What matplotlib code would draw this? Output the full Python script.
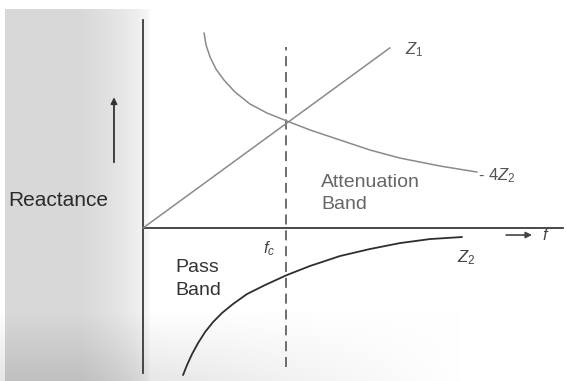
import matplotlib.pyplot as plt
import numpy as np

plt.rcParams["font.family"] = ["Liberation Sans", "DejaVu Sans"]
plt.rcParams["mathtext.fontset"] = "custom"
plt.rcParams["mathtext.rm"] = "Liberation Sans"
plt.rcParams["mathtext.it"] = "Liberation Sans:italic"

# frequency in units of f_c, reactance in units of Z1(f_c)
f_z1 = [0.0, 1.727]
z1 = [0.0, 1.70]

f_4z2 = [0.427, 0.441, 0.469, 0.510, 0.566, 0.643, 0.748, 0.867, 1.007,
         1.168, 1.378, 1.587, 1.797, 2.077, 2.336]
minus_4z2 = [1.840, 1.726, 1.613, 1.500, 1.396, 1.283, 1.170, 1.085, 1.009,
             0.925, 0.830, 0.736, 0.660, 0.585, 0.528]

f_z2 = [0.280, 0.308, 0.343, 0.385, 0.434, 0.490, 0.552, 0.629, 0.727,
        0.853, 1.007, 1.168, 1.378, 1.587, 1.797, 2.007, 2.231]
z2 = [-1.387, -1.292, -1.189, -1.085, -0.981, -0.887, -0.802, -0.717,
      -0.623, -0.538, -0.443, -0.358, -0.264, -0.198, -0.142, -0.104, -0.085]

f_c = 1.0

fig = plt.figure(figsize=(5.66, 3.81), dpi=100)
ax = fig.add_axes([0, 0, 1, 1])
ax.set_xlim(-1.0, 2.958)
ax.set_ylim(-1.443, 2.151)
ax.axis("off")

# scanned-paper shading: grey panel on the left, darker band at the bottom
h, w = 381, 566
yy, xx = np.mgrid[0:h, 0:w]
left = 0.15 * np.clip((150 - xx) / 70, 0, 1) ** 0.5 * (xx > 4) * (yy > 8)
bottom = 0.10 * np.clip((yy - 310) / 71, 0, 1) * np.clip((460 - xx) / 320, 0, 1)
shade = np.clip(1 - left - bottom, 0, 1)
ax.imshow(np.dstack([shade] * 3), extent=(-1.0, 2.958, -1.443, 2.151),
          aspect="auto", zorder=0)

# axes
ax.plot([0, 0], [-1.368, 1.962], color="#3a3a3a", lw=1.3, zorder=2)
ax.plot([0, 2.937], [0, 0], color="#3a3a3a", lw=1.3, zorder=2)

# curves
line_kw = dict(solid_joinstyle="round", solid_capstyle="round", zorder=3)
ax.plot(f_z1, z1, color="#8a8a8a", lw=1.1, **line_kw)
ax.plot(f_4z2, minus_4z2, color="#8a8a8a", lw=1.1, **line_kw)
ax.plot(f_z2, z2, color="#2e2e2e", lw=1.3, **line_kw)

# cut-off frequency
ax.plot([f_c, f_c], [-1.311, 1.708], color="#555555", lw=1.2,
        linestyle=(0, (6, 3.5)), zorder=2)

# direction arrows
ax.annotate("", xy=(-0.203, 1.26), xytext=(-0.203, 0.594),
            arrowprops=dict(arrowstyle="-|>", color="#333333", lw=1.3,
                            mutation_scale=9))
ax.annotate("", xy=(2.74, -0.066), xytext=(2.52, -0.066),
            arrowprops=dict(arrowstyle="-|>", color="#444444", lw=1.2,
                            mutation_scale=9))

# labels
ax.text(-0.594, 0.264, "Reactance", fontsize=15, color="#2a2a2a",
        ha="center", va="center")
ax.text(1.245, 0.425, "Attenuation", fontsize=14, color="#666666",
        ha="left", va="center")
ax.text(1.245, 0.226, "Band", fontsize=14, color="#666666",
        ha="left", va="center")
ax.text(0.224, -0.377, "Pass", fontsize=14, color="#333333",
        ha="left", va="center")
ax.text(0.224, -0.585, "Band", fontsize=14, color="#333333",
        ha="left", va="center")
ax.text(1.83, 1.68, r"$Z_1$", fontsize=12, color="#555555",
        ha="left", va="center")
ax.text(2.34, 0.49, r"- 4$Z_2$", fontsize=12, color="#555555",
        ha="left", va="center")
ax.text(2.26, -0.283, r"$Z_2$", fontsize=12, color="#444444",
        ha="center", va="center")
ax.text(0.88, -0.19, r"$f_c$", fontsize=12, color="#444444",
        ha="center", va="center")
ax.text(2.79, -0.066, r"$f$", fontsize=12, color="#444444",
        ha="left", va="center")

fig.savefig("out.png", dpi=100)
